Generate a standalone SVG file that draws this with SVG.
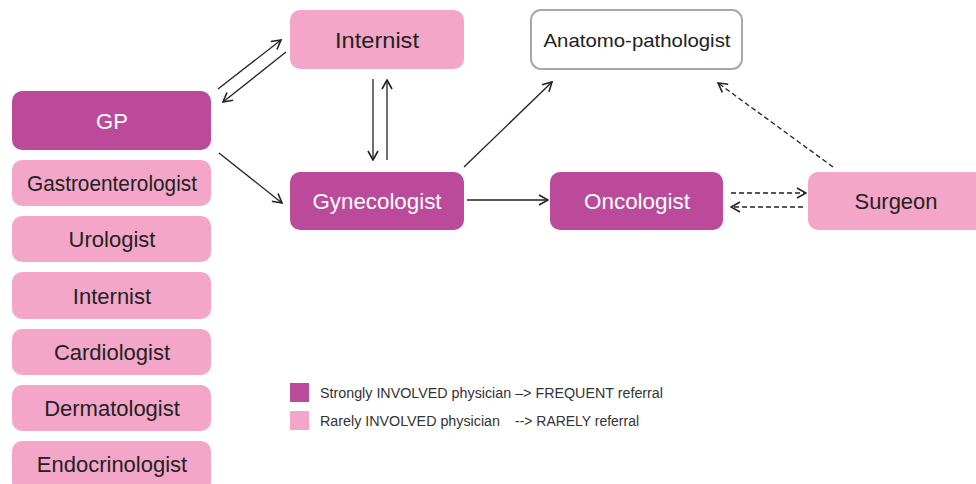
<svg xmlns="http://www.w3.org/2000/svg" width="976" height="484" viewBox="0 0 976 484">
<style>
.dark{fill:#bc4a9b}
.light{fill:#f4a6c8}
.t{font-family:"Liberation Sans",Arial,sans-serif;font-size:22px;fill:#222;text-anchor:middle}
.w{fill:#fff}
.c{fill:none;stroke:#222;stroke-width:1.3}
.d{stroke-dasharray:5 3}
.lg{font-family:"Liberation Sans",Arial,sans-serif;font-size:14px;fill:#333}
</style>
<defs>
<marker id="ah" viewBox="0 0 12 12" refX="11" refY="6" markerWidth="12" markerHeight="12" markerUnits="userSpaceOnUse" orient="auto">
<path d="M2,1 L11,6 L2,11" fill="none" stroke="#222" stroke-width="1.6"/>
</marker>
</defs>
<rect width="976" height="484" fill="#fff"/>
<g id="gp"><rect class="dark" x="12" y="91" width="199" height="59" rx="10"/><text class="t w" x="112" y="129">GP</text></g>
<g id="gastro"><rect class="light" x="12" y="160" width="199" height="46" rx="10"/><text class="t" x="112" y="191" textLength="170" lengthAdjust="spacingAndGlyphs">Gastroenterologist</text></g>
<g id="urologist"><rect class="light" x="12" y="216" width="199" height="46" rx="10"/><text class="t" x="112" y="247">Urologist</text></g>
<g id="internist-left"><rect class="light" x="12" y="272" width="199" height="47" rx="10"/><text class="t" x="112" y="304">Internist</text></g>
<g id="cardiologist"><rect class="light" x="12" y="329" width="199" height="46" rx="10"/><text class="t" x="112" y="360">Cardiologist</text></g>
<g id="dermatologist"><rect class="light" x="12" y="385" width="199" height="46" rx="10"/><text class="t" x="112" y="416">Dermatologist</text></g>
<g id="endocrinologist"><rect class="light" x="12" y="441" width="199" height="50" rx="10"/><text class="t" x="112" y="472">Endocrinologist</text></g>
<g id="internist"><rect class="light" x="290" y="10" width="174" height="59" rx="10"/><text class="t" x="377" y="48" textLength="84" lengthAdjust="spacingAndGlyphs">Internist</text></g>
<g id="gynecologist"><rect class="dark" x="290" y="172" width="174" height="58" rx="10"/><text class="t w" x="377" y="209" textLength="129" lengthAdjust="spacingAndGlyphs">Gynecologist</text></g>
<g id="anatomo"><rect x="531" y="10" width="211" height="59" rx="10" fill="#fff" stroke="#a8a8a8" stroke-width="2"/><text class="t" x="637" y="47" font-size="19" style="font-size:19px" textLength="187" lengthAdjust="spacingAndGlyphs">Anatomo-pathologist</text></g>
<g id="oncologist"><rect class="dark" x="550" y="172" width="173" height="58" rx="10"/><text class="t w" x="637" y="209" textLength="106" lengthAdjust="spacingAndGlyphs">Oncologist</text></g>
<g id="surgeon"><rect class="light" x="808" y="172" width="180" height="58" rx="10"/><text class="t" x="896" y="209" textLength="83" lengthAdjust="spacingAndGlyphs">Surgeon</text></g>
<g id="connectors">
<line class="c" x1="218" y1="89" x2="281" y2="40" marker-end="url(#ah)"/>
<line class="c" x1="286" y1="52" x2="223" y2="102" marker-end="url(#ah)"/>
<line class="c" x1="373" y1="79" x2="373" y2="160" marker-end="url(#ah)"/>
<line class="c" x1="387" y1="160" x2="387" y2="80" marker-end="url(#ah)"/>
<line class="c" x1="219" y1="153" x2="282" y2="203" marker-end="url(#ah)"/>
<line class="c" x1="464" y1="167" x2="552" y2="82" marker-end="url(#ah)"/>
<line class="c" x1="467" y1="200" x2="548" y2="200" marker-end="url(#ah)"/>
<line class="c d" x1="731" y1="193" x2="806" y2="193" marker-end="url(#ah)"/>
<line class="c d" x1="803" y1="207" x2="731" y2="207" marker-end="url(#ah)"/>
<line class="c d" x1="833" y1="167" x2="718" y2="83" marker-end="url(#ah)"/>
</g>
<g id="legend">
<rect class="dark" x="290" y="383" width="19" height="19"/>
<rect class="light" x="290" y="411" width="19" height="19"/>
<text class="lg" x="320" y="398" textLength="343" lengthAdjust="spacingAndGlyphs">Strongly INVOLVED physician –&gt; FREQUENT referral</text>
<text class="lg" x="320" y="426" textLength="180" lengthAdjust="spacingAndGlyphs">Rarely INVOLVED physician</text>
<text class="lg" x="515" y="426" textLength="124" lengthAdjust="spacingAndGlyphs">--&gt; RARELY referral</text>
</g>
</svg>
